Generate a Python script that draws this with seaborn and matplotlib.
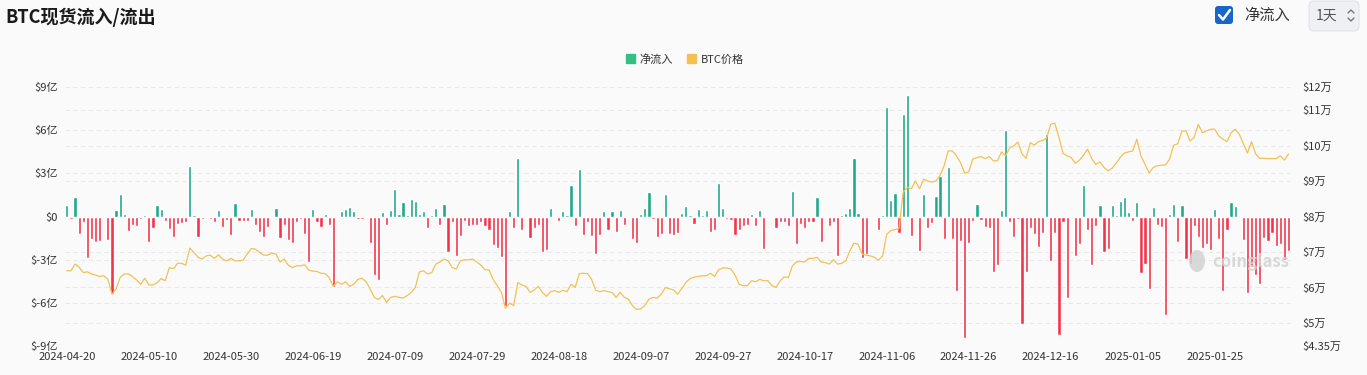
import matplotlib
matplotlib.use("Agg")
import matplotlib.pyplot as plt
import matplotlib.patches as mpatches
from matplotlib.ticker import FixedLocator
import seaborn as sns
import numpy as np
import pandas as pd

# daily data, starting 2024-04-20
start_date = "2024-04-20"

# net flow, in 亿 USD
net_flow = [
    0.81, -0.16, 1.34, -1.23, -0.39, -2.87, -1.57, -1.78, -1.69, -0.05,
    -1.6, -5.37, 0.44, 1.57, 0.19, -1.0, -0.56, -0.67, -0.19, 0.12,
    -1.78, -0.79, 0.79, 0.53, -0.28, -0.86, -1.39, -0.49, -0.44, -0.35,
    3.5, 0.12, -1.44, -0.14, 0.05, -0.19, -0.35, 0.44, -0.72, -0.21,
    -1.3, 0.97, -0.28, -0.28, -0.28, 0.53, -0.56, -1.09, -1.39, -0.74,
    -0.05, 0.56, -1.48, -0.62, -1.6, -1.81, -0.35, -0.16, -1.25, -3.13,
    0.49, -0.35, -0.74, 0.16, -0.58, -4.88, -0.05, 0.35, 0.51, 0.67,
    0.39, -0.16, -0.16, 0.02, -1.85, -4.1, -4.4, 0.3, -0.62, 0.46,
    1.9, 0.19, 1.02, 0.1, 1.25, 1.11, 0.19, 0.39, -0.81, 0.12,
    0.62, -0.62, 0.88, -2.44, -0.39, -2.75, -1.37, -0.28, -0.69, -0.56,
    -0.58, -0.35, -0.69, -0.93, -1.97, -2.18, -2.82, -6.25, 0.37, -0.81,
    4.07, -0.93, -0.12, -1.5, -0.81, -0.58, -2.45, -2.31, 0.58, -0.05,
    -0.32, 0.37, 0.12, 2.22, -0.69, 3.29, -1.27, -0.35, -1.37, -2.64,
    -1.27, 0.39, -0.97, 0.39, -1.11, 0.44, -0.56, -0.12, -1.55, -1.83,
    0.19, 0.56, 1.71, -0.19, -1.41, -1.2, 1.57, -1.25, -1.32, -1.16,
    0.23, 0.72, 0.12, -0.51, 0.49, 0.07, 0.42, -1.09, -0.97, 2.36,
    0.58, -0.16, -0.21, -1.32, -0.97, -0.63, -0.58, 0.16, -0.63, 0.44,
    -2.27, 0.04, -0.12, -0.81, -0.35, -0.35, -0.63, 1.76, -1.94, -0.51,
    -0.83, -0.35, -0.39, 1.37, -1.78, 0.04, -0.69, -0.35, -2.75, 0.12,
    0.23, 0.58, 4.07, 0.23, -2.85, -2.62, -0.1, -0.12, -0.93, 0.12,
    7.64, 1.13, 1.6, -1.13, 7.11, 8.47, -1.37, -0.05, -2.38, 1.55,
    -0.81, -0.44, 1.44, 2.82, -1.55, 3.43, -1.57, -5.19, -1.69, -8.43,
    -1.83, -0.32, 0.86, -0.25, -0.76, -0.83, -3.87, -3.4, 0.44, 5.99,
    -0.39, -1.39, -0.16, -7.45, -3.87, -0.81, -1.2, -2.13, -1.16, 5.74,
    -3.1, -1.18, -8.27, -0.39, -5.67, 0.05, -2.73, -1.9, 2.22, -0.97,
    -3.36, -0.65, 0.83, -2.5, -2.25, 0.81, 0.07, 1.09, 1.34, 0.3,
    -0.28, 1.0, -3.96, -3.33, -5.07, 0.67, -0.56, -0.72, -6.87, 0.19,
    0.88, -1.74, 0.81, -2.96, -3.33, -0.65, -1.41, -2.2, -1.9, -2.36,
    0.53, -1.55, -5.19, -0.95, 1.0, 0.74, -0.12, -1.62, -5.32, -3.52,
    -4.1, -4.72, -1.46, -1.71, -1.18, -2.08, -1.94, -3.05, -2.38,
]

# BTC price, in 万 USD
btc_price = [
    6.47, 6.47, 6.66, 6.57, 6.42, 6.44, 6.38, 6.35, 6.31, 6.33,
    6.23, 5.81, 5.95, 6.28, 6.38, 6.38, 6.31, 6.21, 6.09, 6.26,
    6.07, 6.07, 6.13, 6.25, 6.19, 6.56, 6.53, 6.68, 6.68, 6.63,
    7.11, 6.99, 6.85, 6.8, 6.89, 6.91, 6.82, 6.92, 6.8, 6.75,
    6.82, 6.75, 6.75, 6.77, 6.94, 7.1, 7.08, 6.99, 6.91, 6.91,
    6.97, 6.94, 6.72, 6.8, 6.63, 6.56, 6.61, 6.61, 6.64, 6.49,
    6.46, 6.45, 6.4, 6.39, 6.28, 6.03, 6.16, 6.09, 6.16, 6.03,
    6.09, 6.23, 6.26, 6.16, 5.95, 5.72, 5.66, 5.77, 5.58, 5.72,
    5.75, 5.72, 5.7, 5.77, 5.86, 6.0, 6.44, 6.47, 6.38, 6.42,
    6.66, 6.72, 6.8, 6.75, 6.56, 6.52, 6.75, 6.78, 6.78, 6.8,
    6.72, 6.63, 6.5, 6.49, 6.22, 6.05, 5.86, 5.41, 5.56, 5.49,
    6.14, 6.07, 6.03, 5.86, 5.93, 6.03, 5.86, 5.75, 5.88, 5.91,
    5.86, 5.92, 5.88, 6.09, 6.0, 6.39, 6.4, 6.39, 6.23, 5.92,
    5.88, 5.91, 5.88, 5.86, 5.72, 5.86, 5.72, 5.67, 5.48, 5.38,
    5.4, 5.49, 5.67, 5.72, 5.7, 5.81, 6.0, 5.96, 5.93, 5.81,
    5.97, 6.14, 6.25, 6.29, 6.31, 6.33, 6.33, 6.4, 6.31, 6.5,
    6.55, 6.55, 6.52, 6.35, 6.09, 6.05, 6.05, 6.19, 6.16, 6.23,
    6.19, 6.19, 6.05, 6.0, 6.19, 6.3, 6.28, 6.61, 6.72, 6.73,
    6.72, 6.82, 6.82, 6.85, 6.72, 6.7, 6.66, 6.78, 6.66, 6.68,
    6.75, 7.03, 7.25, 7.22, 6.94, 6.91, 6.89, 6.85, 6.77, 6.89,
    7.5, 7.6, 7.63, 7.66, 8.68, 8.82, 8.78, 9.0, 8.78, 9.05,
    9.0, 8.97, 9.0, 9.15, 9.43, 9.85, 9.85, 9.71, 9.52, 9.22,
    9.26, 9.62, 9.66, 9.69, 9.63, 9.69, 9.57, 9.57, 9.82, 9.71,
    9.94, 9.99, 10.1, 9.76, 9.64, 10.08, 10.01, 10.11, 10.14, 10.21,
    10.6, 10.63, 10.23, 9.78, 9.71, 9.66, 9.5, 9.59, 9.73, 9.9,
    9.63, 9.47, 9.54, 9.38, 9.29, 9.36, 9.51, 9.67, 9.79, 9.82,
    9.85, 10.18, 9.71, 9.47, 9.23, 9.38, 9.43, 9.45, 9.45, 9.62,
    10.01, 10.05, 10.41, 10.41, 10.13, 10.23, 10.6, 10.36, 10.41, 10.46,
    10.46, 10.27, 10.18, 10.11, 10.36, 10.46, 10.32, 10.05, 9.79, 10.11,
    9.76, 9.64, 9.64, 9.63, 9.63, 9.63, 9.71, 9.59, 9.76,
]

left_ticks = [-9, -6, -3, 0, 3, 6, 9]
left_labels = ["$-9亿", "$-6亿", "$-3亿", "$0", "$3亿", "$6亿", "$9亿"]
right_ticks = [4.35, 5, 6, 7, 8, 9, 10, 11, 11.65]
right_labels = ["$4.35万", "$5万", "$6万", "$7万", "$8万", "$9万", "$10万", "$11万", "$12万"]

green = "#20A88A"
red = "#F4334A"
gold = "#F2C156"
bg = "#FAFAFA"

sns.set_theme(style="white")
plt.rcParams["font.family"] = ["Noto Sans CJK SC", "DejaVu Sans"]

n = len(net_flow)
dates = pd.date_range(start_date, periods=n, freq="D")
df = pd.DataFrame({"idx": np.arange(n), "flow": net_flow, "price": btc_price})
df["sign"] = np.where(df["flow"] >= 0, "in", "out")

W, H = 1367, 375
fig = plt.figure(figsize=(W / 100, H / 100), dpi=100, facecolor=bg)
ax = fig.add_axes([65 / W, 1 - 346 / H, (1293 - 65) / W, (346 - 87) / H])
ax.set_facecolor(bg)

sns.barplot(data=df, x="idx", y="flow", hue="sign", palette={"in": green, "out": red},
            native_scale=True, dodge=False, width=0.78, errorbar=None, saturation=1,
            legend=False, ax=ax, zorder=2)

ax2 = ax.twinx()
sns.lineplot(data=df, x="idx", y="price", color=gold, lw=0.9, ax=ax2)

ax.set_xlim(-0.45, 299.1)
ax.set_ylim(-9, 9)
ax2.set_ylim(4.35, 11.65)

# gridlines for both axes drawn on the left axis, behind the bars
ax.set_yticks(left_ticks)
ax.set_yticklabels(left_labels)
right_in_left = [(p - 8) * 18 / 7.3 for p in right_ticks]
ax.yaxis.set_minor_locator(FixedLocator(right_in_left))
ax.grid(which="both", axis="y", color="#e9e9e9", lw=0.8, ls=(0, (4, 3)), zorder=0)
ax.set_axisbelow(True)

ax2.set_yticks(right_ticks)
ax2.set_yticklabels(right_labels)
ax2.grid(False)

tick_pos = list(range(0, n, 20))
ax.set_xticks(tick_pos)
ax.set_xticklabels([dates[i].strftime("%Y-%m-%d") for i in tick_pos])
ax.set_xlabel("")
ax.set_ylabel("")
ax2.set_xlabel("")
ax2.set_ylabel("")

ax.tick_params(axis="y", which="both", length=0, labelsize=8, colors="#333333", pad=5)
ax.tick_params(axis="x", length=0, labelsize=8, colors="#333333", pad=4)
ax2.tick_params(axis="y", length=0, labelsize=8, colors="#333333", pad=7)
for a in (ax, ax2):
    for s in a.spines.values():
        s.set_visible(False)

# title and legend
fig.text(5 / W, 1 - 17 / H, "BTC现货流入/流出", fontsize=13, fontweight="bold",
         va="center", ha="left", color="#1a1a1a")
handles = [mpatches.Patch(color="#34C083", label="净流入"),
           mpatches.Patch(color=gold, label="BTC价格")]
fig.legend(handles=handles, loc="center", bbox_to_anchor=(685 / W, 1 - 59 / H), ncol=2,
           frameon=False, fontsize=8, handlelength=0.8, handleheight=0.8,
           columnspacing=1.3, handletextpad=0.4, labelcolor="#333333")

# top-right controls and watermark, in pixel coordinates
ui = fig.add_axes([0, 0, 1, 1], zorder=5)
ui.set_xlim(0, W)
ui.set_ylim(H, 0)
ui.axis("off")
ui.patch.set_alpha(0)

ui.add_patch(mpatches.FancyBboxPatch((1215, 6), 18, 18, boxstyle="round,pad=0,rounding_size=3",
                                     fc="#1A66C8", ec="none"))
ui.plot([1219, 1223, 1230], [15, 19.5, 10], color="white", lw=1.8, solid_capstyle="round")
ui.text(1244, 15, "净流入", fontsize=11, va="center", ha="left", color="#333333")

ui.add_patch(mpatches.FancyBboxPatch((1309, 1), 50, 30, boxstyle="round,pad=0,rounding_size=5",
                                     fc="#EEF0F3", ec="#E1E3E7", lw=0.8))
ui.text(1316, 15.5, "1天", fontsize=10, va="center", ha="left", color="#555555")
ui.plot([1348, 1351, 1354], [13, 10, 13], color="#777777", lw=1)
ui.plot([1348, 1351, 1354], [18, 21, 18], color="#777777", lw=1)

ui.add_patch(mpatches.Ellipse((1197, 261), 16, 22, fc="#d2d2d2", ec="none", alpha=0.85))
ui.text(1212, 262, "coinglass", fontsize=12, fontweight="bold", va="center", ha="left",
        color="#d2d2d2", alpha=0.85)

fig.savefig("out.png", dpi=100, facecolor=bg)
